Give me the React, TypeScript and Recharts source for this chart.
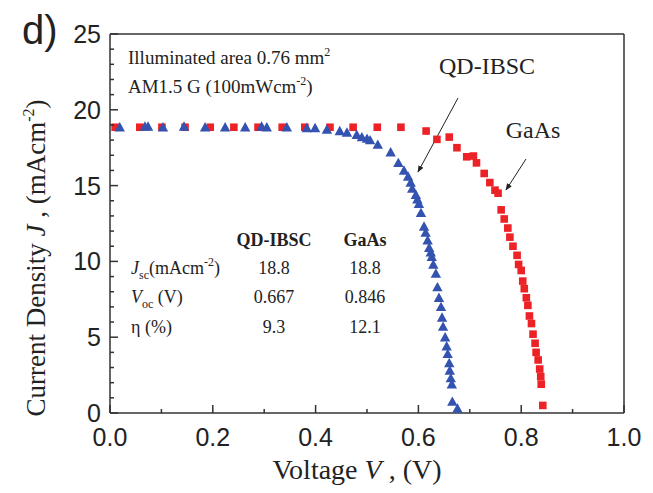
import { ScatterChart, Scatter, XAxis, YAxis, Customized } from "recharts";

// chart box sits at page (8, 8) because of the body margin
const W = 645;
const H = 485;
// plot area: left 102, right 616, top 26, bottom 405 (svg px); axes take 1px each
const M = { top: 25, right: 28, bottom: 79, left: 101 };

const SERIF = "'Liberation Serif', 'Times New Roman', serif";
const SANS = "'Liberation Sans', Arial, sans-serif";
const AXIS = "#333";
const RED = "#ec2227";
const BLUE = "#3453b0";

const xTicks = [0, 0.1, 0.2, 0.3, 0.4, 0.5, 0.6, 0.7, 0.8, 0.9, 1.0];
const yTicks = [0, 1, 2, 3, 4, 5, 6, 7, 8, 9, 10, 11, 12, 13, 14, 15, 16, 17, 18, 19, 20, 21, 22, 23, 24, 25];

// QD-IBSC (blue triangles)
const qdVoltage = [
  0.019, 0.068, 0.074, 0.103, 0.144, 0.185, 0.224, 0.263, 0.295, 0.305, 0.344, 0.383, 0.399,
  0.422, 0.447, 0.461, 0.48, 0.49, 0.5, 0.506, 0.521, 0.546, 0.561, 0.572, 0.58, 0.585, 0.588,
  0.595, 0.598, 0.601, 0.605, 0.611, 0.614, 0.618, 0.621, 0.624, 0.626, 0.629, 0.634, 0.637,
  0.64, 0.644, 0.646, 0.648, 0.652, 0.655, 0.657, 0.66, 0.661, 0.663, 0.665, 0.666, 0.676,
];
const qdCurrent = [
  18.85, 18.9, 18.9, 18.85, 18.9, 18.85, 18.85, 18.85, 18.9, 18.85, 18.85, 18.8, 18.8,
  18.7, 18.6, 18.5, 18.35, 18.2, 18.1, 18.0, 17.7, 17.2, 16.5, 16.0, 15.6, 15.2, 14.8,
  14.4, 14.1, 13.8, 13.2, 12.3, 11.9, 11.4, 10.9, 10.6, 10.3, 9.8, 9.2, 8.3,
  7.6, 7.0, 6.3, 5.7, 5.0, 4.4, 3.9, 3.3, 2.8, 2.3, 1.9, 0.75, 0.3,
];

// GaAs (red squares)
const gaasVoltage = [
  0.01, 0.058, 0.101, 0.146, 0.195, 0.241, 0.288, 0.335, 0.379, 0.428, 0.473, 0.52, 0.566,
  0.615, 0.636, 0.66, 0.675, 0.694, 0.707, 0.713, 0.728, 0.739, 0.749, 0.755, 0.761, 0.767,
  0.774, 0.778, 0.784, 0.792, 0.795, 0.8, 0.803, 0.806, 0.81, 0.813, 0.816, 0.82, 0.823,
  0.827, 0.829, 0.833, 0.836, 0.838, 0.839, 0.842,
];
const gaasCurrent = [
  18.85, 18.85, 18.85, 18.85, 18.85, 18.85, 18.85, 18.85, 18.85, 18.85, 18.85, 18.85, 18.85,
  18.6, 18.05, 18.2, 17.5, 16.9, 16.95, 16.5, 15.8, 15.2, 14.7, 14.5, 13.4, 12.8,
  12.2, 11.6, 11.0, 10.4, 9.8, 9.4, 8.7, 8.2, 7.6, 7.1, 6.4, 5.9, 5.2,
  4.6, 4.0, 3.5, 2.9, 2.4, 1.9, 0.5,
];

const qdParams = ["18.8", "0.667", "9.3"];
const gaasParams = ["18.8", "0.846", "12.1"];

const qdData = qdVoltage.map((v, i) => ({ v, j: qdCurrent[i] }));
const gaasData = gaasVoltage.map((v, i) => ({ v, j: gaasCurrent[i] }));

const isMajorX = (v: number) => Math.round(v * 10) % 2 === 0;
const isMajorY = (v: number) => v % 5 === 0;

function BottomTick({ x, y, payload }: any) {
  const major = isMajorX(payload.value);
  return (
    <g>
      <line x1={x} x2={x} y1={y} y2={y - (major ? 8 : 4)} stroke={AXIS} strokeWidth={1.5} />
      {major && (
        <text x={x} y={y + 33} textAnchor="middle" fontFamily={SANS} fontSize={25} fill="#222">
          {payload.value.toFixed(1)}
        </text>
      )}
    </g>
  );
}

function TopTick({ x, y, payload }: any) {
  const major = isMajorX(payload.value);
  return <line x1={x} x2={x} y1={y} y2={y + (major ? 8 : 4)} stroke={AXIS} strokeWidth={1.5} />;
}

function LeftTick({ x, y, payload }: any) {
  const major = isMajorY(payload.value);
  return (
    <g>
      <line x1={x} x2={x + (major ? 8 : 4)} y1={y} y2={y} stroke={AXIS} strokeWidth={1.5} />
      {major && (
        <text x={x - 9} y={y + 9} textAnchor="end" fontFamily={SANS} fontSize={25} fill="#222">
          {payload.value}
        </text>
      )}
    </g>
  );
}

function RightTick({ x, y, payload }: any) {
  const major = isMajorY(payload.value);
  return <line x1={x} x2={x - (major ? 8 : 4)} y1={y} y2={y} stroke={AXIS} strokeWidth={1.5} />;
}

function Square({ cx, cy }: any) {
  return <rect x={cx - 3.8} y={cy - 3.8} width={7.6} height={7.6} fill={RED} />;
}

function Triangle({ cx, cy }: any) {
  return <polygon points={`${cx},${cy - 5.2} ${cx - 5.2},${cy + 4.2} ${cx + 5.2},${cy + 4.2}`} fill={BLUE} />;
}

function Annotations() {
  const rowY = [266, 295, 325];
  const col1 = 266;
  const col2 = 357;
  return (
    <g>
      <defs>
        <marker id="arrow" viewBox="0 0 10 10" refX="9" refY="5" markerWidth="7" markerHeight="7" orient="auto">
          <path d="M0,1 L10,5 L0,9 z" fill="#222" />
        </marker>
      </defs>

      <text x={14} y={36} fontFamily={SANS} fontSize={40} fill="#222">d)</text>

      <text
        transform={`translate(37, 250) rotate(-90)`}
        textAnchor="middle"
        fontFamily={SERIF}
        fontSize={27}
        fill="#222"
      >
        Current Density <tspan fontStyle="italic">J</tspan> , (mAcm
        <tspan fontSize={16} dy={-11}>-2</tspan>
        <tspan dy={11}>)</tspan>
      </text>

      <text x={349} y={471} textAnchor="middle" fontFamily={SERIF} fontSize={28} fill="#222">
        Voltage <tspan fontStyle="italic">V</tspan> , (V)
      </text>

      <text x={120} y={56} fontFamily={SERIF} fontSize={19} fill="#222">
        Illuminated area 0.76 mm<tspan fontSize={12} dy={-8}>2</tspan>
      </text>
      <text x={120} y={85} fontFamily={SERIF} fontSize={19} fill="#222">
        AM1.5 G (100mWcm<tspan fontSize={12} dy={-8}>-2</tspan>
        <tspan dy={8}>)</tspan>
      </text>

      <text x={479} y={66} textAnchor="middle" fontFamily={SERIF} fontSize={24} fill="#222">QD-IBSC</text>
      <text x={525} y={130} textAnchor="middle" fontFamily={SERIF} fontSize={24} fill="#222">GaAs</text>
      <line x1={450} y1={90} x2={410} y2={164} stroke="#222" strokeWidth={1} markerEnd="url(#arrow)" />
      <line x1={518} y1={151} x2={498} y2={182} stroke="#222" strokeWidth={1} markerEnd="url(#arrow)" />

      <text x={col1} y={238} textAnchor="middle" fontFamily={SERIF} fontSize={18} fontWeight="bold" fill="#222">QD-IBSC</text>
      <text x={col2} y={238} textAnchor="middle" fontFamily={SERIF} fontSize={18} fontWeight="bold" fill="#222">GaAs</text>

      <text x={123} y={rowY[0]} fontFamily={SERIF} fontSize={18} fill="#222">
        <tspan fontStyle="italic">J</tspan>
        <tspan fontSize={12} dy={5}>sc</tspan>
        <tspan dy={-5}>(mAcm</tspan>
        <tspan fontSize={12} dy={-8}>-2</tspan>
        <tspan dy={8}>)</tspan>
      </text>
      <text x={123} y={rowY[1]} fontFamily={SERIF} fontSize={18} fill="#222">
        <tspan fontStyle="italic">V</tspan>
        <tspan fontSize={12} dy={5}>oc</tspan>
        <tspan dy={-5}> (V)</tspan>
      </text>
      <text x={123} y={rowY[2]} fontFamily={SERIF} fontSize={18} fill="#222">η (%)</text>

      {qdParams.map((p, i) => (
        <text key={`q${i}`} x={col1} y={rowY[i]} textAnchor="middle" fontFamily={SERIF} fontSize={18} fill="#222">{p}</text>
      ))}
      {gaasParams.map((p, i) => (
        <text key={`g${i}`} x={col2} y={rowY[i]} textAnchor="middle" fontFamily={SERIF} fontSize={18} fill="#222">{p}</text>
      ))}
    </g>
  );
}

export default function App() {
  return (
    <div style={{ width: W, height: H, background: "#fff" }}>
      <ScatterChart width={W} height={H} margin={M}>
        <XAxis
          xAxisId={0}
          dataKey="v"
          type="number"
          domain={[0, 1]}
          ticks={xTicks}
          interval={0}
          height={1}
          tickSize={0}
          tickMargin={0}
          tickLine={false}
          axisLine={{ stroke: AXIS, strokeWidth: 1.5 }}
          tick={<BottomTick />}
        />
        <XAxis
          xAxisId="top"
          orientation="top"
          type="number"
          domain={[0, 1]}
          ticks={xTicks}
          interval={0}
          height={1}
          tickSize={0}
          tickMargin={0}
          tickLine={false}
          axisLine={{ stroke: AXIS, strokeWidth: 1.5 }}
          tick={<TopTick />}
        />
        <YAxis
          yAxisId={0}
          dataKey="j"
          type="number"
          domain={[0, 25]}
          ticks={yTicks}
          interval={0}
          width={1}
          tickSize={0}
          tickMargin={0}
          tickLine={false}
          axisLine={{ stroke: AXIS, strokeWidth: 1.5 }}
          tick={<LeftTick />}
        />
        <YAxis
          yAxisId="right"
          orientation="right"
          type="number"
          domain={[0, 25]}
          ticks={yTicks}
          interval={0}
          width={1}
          tickSize={0}
          tickMargin={0}
          tickLine={false}
          axisLine={{ stroke: AXIS, strokeWidth: 1.5 }}
          tick={<RightTick />}
        />
        <Scatter data={gaasData} shape={<Square />} isAnimationActive={false} />
        <Scatter data={qdData} shape={<Triangle />} isAnimationActive={false} />
        <Customized component={Annotations} />
      </ScatterChart>
    </div>
  );
}
